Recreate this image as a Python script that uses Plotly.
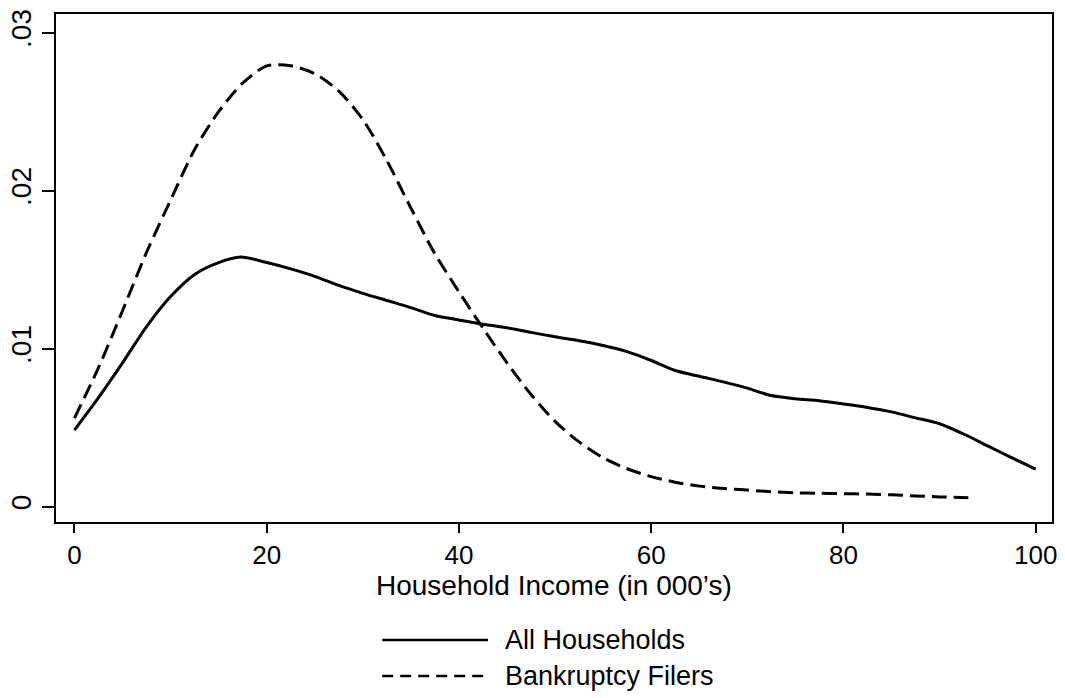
import plotly.graph_objects as go

# All Households (solid)
hh_income = [0, 2.5, 5, 7.5, 10, 12.5, 15, 17.3, 20, 22.5, 25, 27.5, 30, 32.5, 35,
             37.5, 40, 42.5, 45, 47.5, 50, 52.5, 55, 57.5, 60, 62.5, 65, 67.5, 70,
             72.5, 75, 77.5, 80, 82.5, 85, 87.5, 90, 92.5, 95, 97.5, 100]
hh_density = [0.00485, 0.0069, 0.0091, 0.0114, 0.0133, 0.0147, 0.01545, 0.0158,
              0.01545, 0.01505, 0.01458, 0.0140, 0.0135, 0.01305, 0.0126, 0.0121,
              0.01182, 0.01155, 0.01132, 0.01103, 0.01075, 0.0105, 0.0102, 0.00981,
              0.00925, 0.00862, 0.00825, 0.0079, 0.0075, 0.00703, 0.00683, 0.0067,
              0.0065, 0.00628, 0.006, 0.00562, 0.00525, 0.0046, 0.00385, 0.0031,
              0.00237]

# Bankruptcy Filers (dashed)
bk_income = [0, 2.5, 5, 7.5, 10, 12.5, 15, 17.5, 20, 22.5, 25, 27.5, 30, 32.5, 35,
             37.5, 40, 42.5, 45, 47.5, 50, 52.5, 55, 57.5, 60, 62.5, 65, 67.5, 70,
             72.5, 75, 77.5, 80, 82.5, 85, 87.5, 90, 93]
bk_density = [0.0056, 0.0088, 0.0124, 0.0161, 0.0194, 0.0226, 0.025, 0.0268, 0.0279,
              0.0279, 0.0274, 0.0263, 0.0245, 0.0219, 0.0189, 0.0160, 0.0136, 0.0113,
              0.0091, 0.0071, 0.0054, 0.0041, 0.0031, 0.0024, 0.0019, 0.00155, 0.0013,
              0.00115, 0.00105, 0.00095, 0.00088, 0.00085, 0.00082, 0.0008, 0.00075,
              0.00068, 0.00062, 0.00056]

x_ticks = [0, 20, 40, 60, 80, 100]
x_tick_labels = ["0", "20", "40", "60", "80", "100"]
y_ticks = [0, 0.01, 0.02, 0.03]
y_tick_labels = ["0", ".01", ".02", ".03"]

x_title = "Household Income (in 000’s)"
legend_names = ["All Households", "Bankruptcy Filers"]

FONT = "Liberation Sans, Arial, Helvetica, sans-serif"

fig = go.Figure()
fig.add_trace(go.Scatter(x=hh_income, y=hh_density, mode="lines",
                         line=dict(color="black", width=3, shape="spline", smoothing=0.8),
                         name=legend_names[0], showlegend=False))
fig.add_trace(go.Scatter(x=bk_income, y=bk_density, mode="lines",
                         line=dict(color="black", width=3, dash="15px,7px",
                                   shape="spline", smoothing=0.8),
                         name=legend_names[1], showlegend=False))

# x-axis title as annotation (precise placement)
fig.add_annotation(xref="paper", yref="paper", x=0.5, y=-0.125, text=x_title,
                   showarrow=False, xanchor="center", yanchor="middle",
                   font=dict(family=FONT, size=28, color="black"))

# manual legend (paper coordinates)
rows = [(-0.2323, "solid"), (-0.3031, "11px,7px")]
for (yy, dash), name in zip(rows, legend_names):
    fig.add_shape(type="line", xref="paper", yref="paper", x0=0.3275, x1=0.4338,
                  y0=yy, y1=yy, line=dict(color="black", width=2.5, dash=dash))
    fig.add_annotation(xref="paper", yref="paper", x=0.4488, y=yy, text=name,
                       showarrow=False, xanchor="left", yanchor="middle",
                       font=dict(family=FONT, size=27, color="black"))

fig.update_layout(
    width=1065, height=698,
    margin=dict(l=55.5, r=12.5, t=14, b=176, autoexpand=False),
    paper_bgcolor="white", plot_bgcolor="white",
    font=dict(family=FONT, color="black"),
    showlegend=False,
)
fig.update_xaxes(range=[-1.92, 101.7], tickvals=x_ticks, ticktext=x_tick_labels,
                 ticks="outside", ticklen=9, tickwidth=2, tickcolor="black",
                 showline=True, linewidth=2, linecolor="black", mirror=True,
                 showgrid=False, zeroline=False, automargin=False,
                 tickfont=dict(family=FONT, size=26))
fig.update_yaxes(range=[-0.00097, 0.03118], tickvals=y_ticks, ticktext=y_tick_labels,
                 ticks="outside", ticklen=12, tickwidth=2, tickcolor="black",
                 showline=True, linewidth=2, linecolor="black", mirror=True,
                 showgrid=False, zeroline=False, tickangle=-90, automargin=False,
                 tickfont=dict(family=FONT, size=28))

fig.write_html("out.html")
